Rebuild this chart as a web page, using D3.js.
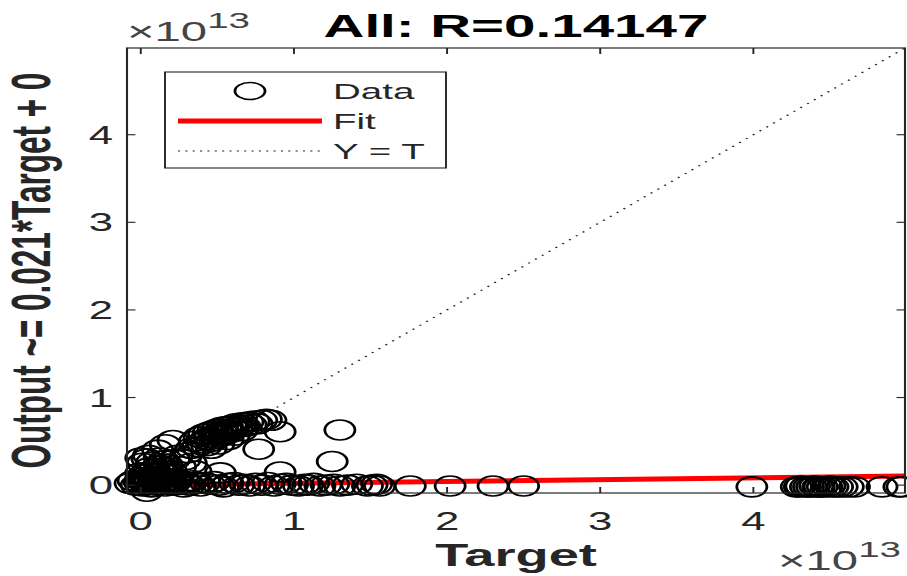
<!DOCTYPE html>
<html>
<head>
<meta charset="utf-8">
<script src="https://cdn.jsdelivr.net/npm/d3@7"></script>
<style>
  body { margin: 0; background: #fff; }
  svg { display: block; }
</style>
</head>
<body>
<svg id="chart" width="907" height="576"></svg>
<script>
// ---- Chart data (Target / Output values in units of 10^13) ----
const titleText = "All: R=0.14147";
const xLabelText = "Target";
const yLabelText = "Output ~= 0.021*Target + 0";
const exponentText = "13";
const tickValues = [0, 1, 2, 3, 4];
const tickLabels = ["0", "1", "2", "3", "4"];
const axisLimits = [-0.09, 4.99];
const fitSlope = 0.021;
const fitIntercept = 0;
const legendLabels = ["Data", "Fit", "Y = T"];

// samples whose output sits near zero
const bandPoints = [
  [-0.07,0.02],[-0.05,0.05],[-0.03,0.00],[-0.01,0.03],[0.00,0.06],[0.01,-0.01],[0.02,0.04],[0.03,0.01],
  [0.04,0.07],[0.05,0.02],[0.06,0.05],[0.07,-0.02],[0.08,0.03],[0.09,0.08],[0.10,0.00],[0.11,0.04],
  [0.12,0.06],[0.13,0.01],[0.15,0.03],[0.16,-0.01],[0.18,0.05],[0.19,0.02],[0.21,0.00],[0.23,0.04],
  [0.24,0.06],[0.26,0.01],[0.28,-0.02],[0.30,0.03],[0.32,0.00],[0.34,0.05],[0.37,0.02],[0.39,-0.01],
  [0.42,0.03],[0.45,0.01],[0.48,0.04],[0.51,0.00],[0.54,-0.02],[0.57,0.02],[0.61,0.03],[0.64,0.00],
  [0.68,0.01],[0.71,-0.01],[0.75,0.02],[0.79,0.00],[0.83,0.03],[0.87,-0.01],[0.91,0.01],[0.95,0.02],
  [0.99,0.00],[1.03,-0.01],[1.07,0.01],[1.09,0.00],[1.13,0.02],[1.17,-0.01],[1.21,0.00],[1.26,0.01],
  [1.30,-0.01],[1.35,0.00],[1.41,0.01],[1.48,-0.01],[1.51,0.00],[1.54,0.01],[1.56,-0.01],[1.76,-0.01],
  [2.02,-0.01],[2.30,-0.01],[2.50,-0.01]
];
// small targets with small positive outputs
const originPoints = [
  [0.00,0.08],[0.02,0.12],[0.03,0.05],[0.05,0.15],[0.06,0.20],[0.08,0.10],[0.09,0.18],[0.11,0.07],
  [0.12,0.23],[0.14,0.14],[0.16,0.19],[0.18,0.11],[0.20,0.16],[0.01,0.25],[0.04,0.30],[0.07,0.26],
  [0.10,0.13],[0.13,0.09],[0.15,0.28],[0.03,0.03],[0.06,0.06],[0.09,0.04],[0.00,0.14],[0.05,0.34],
  [0.12,0.31],[0.17,0.24],[0.22,0.29],[0.26,0.21]
];
// main group running just under the Y = T line
const diagonalPoints = [
  [0.33,0.42],[0.35,0.50],[0.37,0.44],[0.38,0.55],[0.40,0.48],[0.41,0.58],[0.42,0.52],[0.43,0.45],
  [0.44,0.60],[0.45,0.55],[0.46,0.42],[0.46,0.50],[0.47,0.62],[0.48,0.57],[0.49,0.53],[0.50,0.64],
  [0.51,0.47],[0.51,0.60],[0.52,0.56],[0.53,0.66],[0.54,0.62],[0.55,0.58],[0.56,0.67],[0.57,0.52],
  [0.57,0.63],[0.58,0.60],[0.59,0.68],[0.60,0.65],[0.61,0.57],[0.62,0.70],[0.63,0.66],[0.65,0.68],
  [0.66,0.62],[0.66,0.71],[0.68,0.67],[0.70,0.72],[0.72,0.69],[0.74,0.73],[0.76,0.70],[0.79,0.74],
  [0.82,0.75],[0.85,0.74]
];
// isolated samples
const outlierPoints = [
  [0.21,0.51],[0.11,0.40],[0.16,0.46],[0.29,0.29],[0.33,0.25],[0.31,0.37],[0.24,0.34],[0.52,0.14],
  [0.91,0.61],[0.77,0.41],[0.91,0.15],[1.30,0.63],[1.25,0.27],[0.04,-0.07],[0.36,0.16],[0.00,0.31]
];
// large targets, outputs near zero
const farPoints = [
  [3.99,-0.02],[4.28,-0.02],[4.30,-0.02],[4.31,-0.01],[4.34,-0.02],[4.36,-0.02],[4.38,-0.02],
  [4.40,-0.01],[4.42,-0.02],[4.43,-0.02],[4.45,-0.02],[4.48,-0.02],[4.50,-0.01],[4.52,-0.02],
  [4.55,-0.02],[4.58,-0.02],[4.62,-0.02],[4.66,-0.02],[4.84,-0.02],[4.95,-0.02],[4.97,-0.02]
];

const allPoints = [].concat(bandPoints, originPoints, diagonalPoints, outlierPoints, farPoints);

// ---- Layout ----
// The figure is drawn in an inner frame that is widened horizontally.
const SX = 1.75;
const box = { left: 127, right: 905, top: 48, bottom: 493 };   // page pixels
const FONT = "'Liberation Sans', Arial, Helvetica, sans-serif";
const AXIS_COLOR = "#262626";
const MARK_RX = 8.6, MARK_RY = 10;

const svg = d3.select("#chart");
const g = svg.append("g").attr("transform", `scale(${SX},1)`);

const x = d3.scaleLinear().domain(axisLimits).range([box.left / SX, box.right / SX]);
const y = d3.scaleLinear().domain(axisLimits).range([box.bottom, box.top]);

const [x0, x1] = x.range();
const [y0, y1] = y.range();

g.append("clipPath").attr("id", "plotClip")
  .append("rect").attr("x", x0).attr("y", y1).attr("width", x1 - x0).attr("height", y0 - y1);

// Y = T reference line
g.append("line")
  .attr("clip-path", "url(#plotClip)")
  .attr("x1", x(axisLimits[0])).attr("y1", y(axisLimits[0]))
  .attr("x2", x(axisLimits[1])).attr("y2", y(axisLimits[1]))
  .attr("stroke", "#222").attr("stroke-width", 1.2)
  .attr("stroke-dasharray", "1.2 4.3");

// linear fit
const fit = t => fitSlope * t + fitIntercept;
g.append("line")
  .attr("clip-path", "url(#plotClip)")
  .attr("x1", x(axisLimits[0])).attr("y1", y(fit(axisLimits[0])))
  .attr("x2", x(axisLimits[1])).attr("y2", y(fit(axisLimits[1])))
  .attr("stroke", "#ff0000").attr("stroke-width", 5);

// data markers
g.append("g").selectAll("ellipse").data(allPoints).join("ellipse")
  .attr("cx", d => x(d[0]))
  .attr("cy", d => y(d[1]))
  .attr("rx", MARK_RX).attr("ry", MARK_RY)
  .attr("fill", "none")
  .attr("stroke", "#000")
  .attr("stroke-width", 1.6);

// axes box with inward ticks
g.append("rect")
  .attr("x", x0).attr("y", y1).attr("width", x1 - x0).attr("height", y0 - y1)
  .attr("fill", "none").attr("stroke", AXIS_COLOR).attr("stroke-width", 1.2);

const tickLen = 6;
const ticks = g.append("g").attr("stroke", AXIS_COLOR).attr("stroke-width", 1.1);
tickValues.forEach(v => {
  ticks.append("line").attr("x1", x(v)).attr("x2", x(v)).attr("y1", y0).attr("y2", y0 - tickLen);
  ticks.append("line").attr("x1", x(v)).attr("x2", x(v)).attr("y1", y1).attr("y2", y1 + tickLen);
  ticks.append("line").attr("y1", y(v)).attr("y2", y(v)).attr("x1", x0).attr("x2", x0 + tickLen / SX * 1.4);
  ticks.append("line").attr("y1", y(v)).attr("y2", y(v)).attr("x1", x1).attr("x2", x1 - tickLen / SX * 1.4);
});

// tick labels
const tickFont = 25;
g.append("g").selectAll("text").data(tickValues).join("text")
  .attr("x", d => x(d)).attr("y", y0 + 37)
  .attr("text-anchor", "middle")
  .attr("font-family", FONT).attr("font-size", tickFont).attr("fill", AXIS_COLOR)
  .text((d, i) => tickLabels[i]);

g.append("g").selectAll("text").data(tickValues).join("text")
  .attr("x", x0 - 14 / SX).attr("y", d => y(d) + 9)
  .attr("text-anchor", "end")
  .attr("font-family", FONT).attr("font-size", tickFont).attr("fill", AXIS_COLOR)
  .text((d, i) => tickLabels[i]);

// exponent markers
function exponentLabel(px, baseline) {
  const t = g.append("text")
    .attr("x", px / SX).attr("y", baseline)
    .attr("font-family", FONT).attr("fill", "#444");
  t.append("tspan").attr("font-size", 27).text("\u00D710");
  t.append("tspan").attr("font-size", 22).attr("dy", -13).text(exponentText);
}
exponentLabel(127, 41);
exponentLabel(778, 570);

// title and axis labels
g.append("text")
  .attr("x", (x0 + x1) / 2).attr("y", 37)
  .attr("text-anchor", "middle")
  .attr("font-family", FONT).attr("font-weight", "bold").attr("font-size", 32.3).attr("fill", "#000")
  .text(titleText);

g.append("text")
  .attr("x", (x0 + x1) / 2).attr("y", 566)
  .attr("text-anchor", "middle")
  .attr("font-family", FONT).attr("font-weight", "bold").attr("font-size", 31).attr("fill", AXIS_COLOR)
  .text(xLabelText);

g.append("text")
  .attr("transform", `translate(${50 / SX},${(y0 + y1) / 2}) rotate(-90)`)
  .attr("text-anchor", "middle")
  .attr("font-family", FONT).attr("font-weight", "bold").attr("font-size", 31.5).attr("fill", AXIS_COLOR)
  .text(yLabelText);

// legend
const lg = g.append("g");
const lgBox = { left: 165 / SX, right: 446 / SX, top: 72, bottom: 168 };
lg.append("rect")
  .attr("x", lgBox.left).attr("y", lgBox.top)
  .attr("width", lgBox.right - lgBox.left).attr("height", lgBox.bottom - lgBox.top)
  .attr("fill", "#fff").attr("stroke", AXIS_COLOR).attr("stroke-width", 1.1);
const rowY = [91, 121, 151];
const sampleL = 178 / SX, sampleR = 322 / SX, textX = 333 / SX;
lg.append("ellipse").attr("cx", (sampleL + sampleR) / 2).attr("cy", rowY[0])
  .attr("rx", MARK_RX).attr("ry", MARK_RY * 0.85)
  .attr("fill", "none").attr("stroke", "#000").attr("stroke-width", 1.6);
lg.append("line").attr("x1", sampleL).attr("x2", sampleR).attr("y1", rowY[1]).attr("y2", rowY[1])
  .attr("stroke", "#ff0000").attr("stroke-width", 5);
lg.append("line").attr("x1", sampleL).attr("x2", sampleR).attr("y1", rowY[2]).attr("y2", rowY[2])
  .attr("stroke", "#222").attr("stroke-width", 1.1).attr("stroke-dasharray", "1.2 3");
lg.selectAll("text.lab").data(legendLabels).join("text")
  .attr("class", "lab")
  .attr("x", textX).attr("y", (d, i) => rowY[i] + 8)
  .attr("font-family", FONT).attr("font-size", 22).attr("fill", AXIS_COLOR)
  .text(d => d);
</script>
</body>
</html>
